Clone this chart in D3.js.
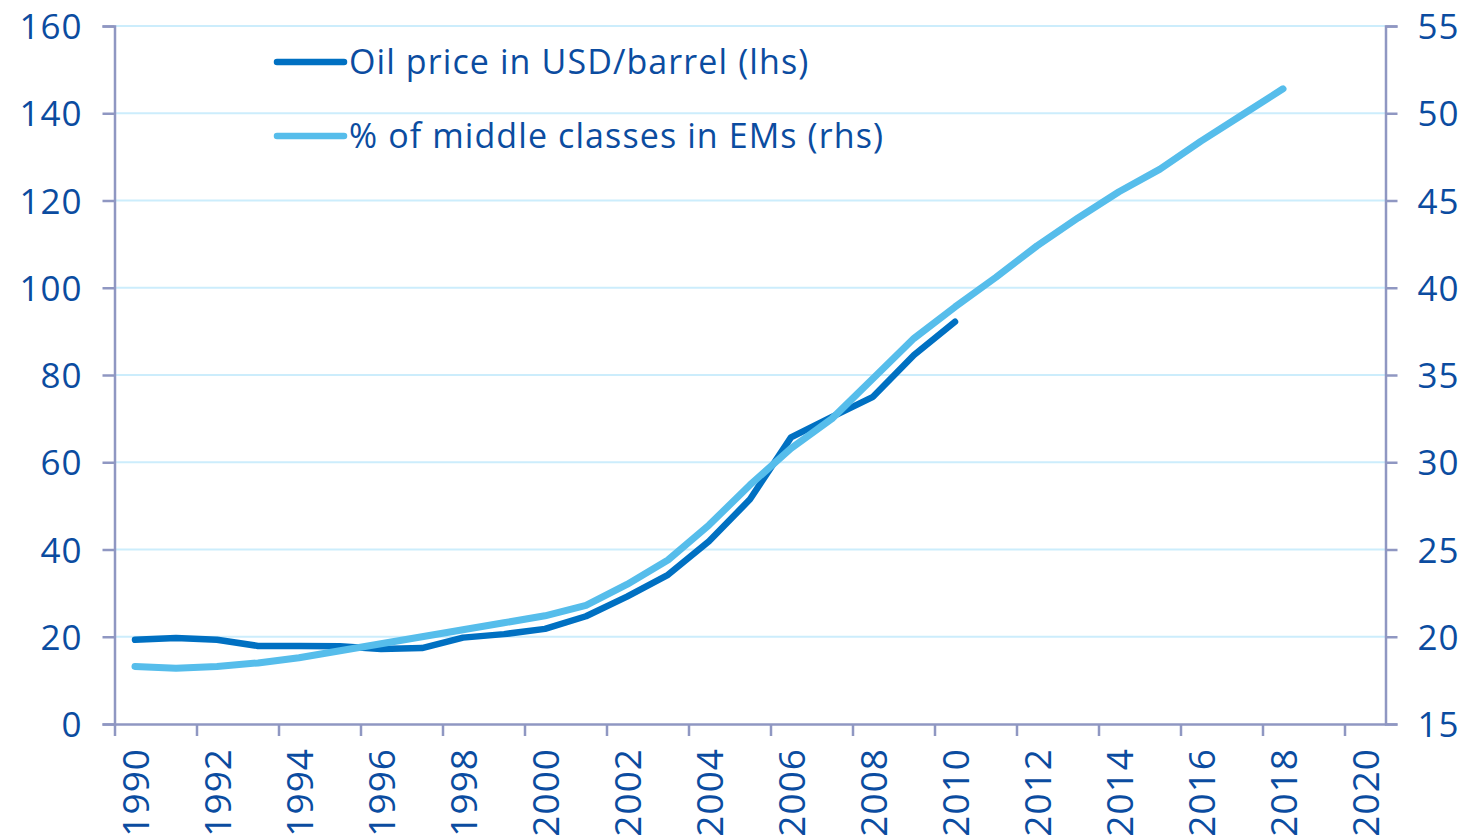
<!DOCTYPE html>
<html>
<head>
<meta charset="utf-8">
<script src="https://cdn.jsdelivr.net/npm/d3@7"></script>
<style>
  body { margin: 0; background: #ffffff; }
  text { font-family: "Open Sans", sans-serif; fill: #0b4ca0; }
</style>
</head>
<body>
<div id="grafico"></div>
<script>
// Datos
const anios = d3.range(1990, 2021);
const aniosPetroleo = d3.range(1990, 2011);
const precioPetroleo = [19.3, 19.7, 19.3, 17.9, 17.9, 17.8, 17.2, 17.4, 19.8, 20.6, 21.8,
  24.7, 29.2, 34.2, 41.9, 51.5, 65.7, 70.4, 75.0, 84.6, 92.2];
const aniosClaseMedia = d3.range(1990, 2019);
const claseMedia = [18.3, 18.2, 18.3, 18.5, 18.8, 19.2, 19.6, 20.0, 20.4, 20.8, 21.2,
  21.8, 23.0, 24.4, 26.4, 28.7, 30.8, 32.5, 34.8, 37.1, 38.9, 40.6, 42.4, 44.0,
  45.5, 46.8, 48.4, 49.9, 51.4];
const ticksIzq = [0, 20, 40, 60, 80, 100, 120, 140, 160];
const ticksDer = [15, 20, 25, 30, 35, 40, 45, 50, 55];
const etiquetasX = d3.range(1990, 2021, 2);
const leyenda = ["Oil price in USD/barrel (lhs)", "% of middle classes in EMs (rhs)"];

const ancho = 1468, alto = 838;
const izq = 114.5, der = 1385.5, arriba = 26, abajo = 724;
const colorEje = "#8f97c2";
const colorOscuro = "#0070c2";
const colorClaro = "#56bdeb";

const svg = d3.select("#grafico").append("svg")
  .attr("width", ancho).attr("height", alto);

const x = d3.scaleLinear().domain([1989.5, 2020.5]).range([izq, der]);
const paso = x(1991) - x(1990);
const yIzq = d3.scaleLinear().domain([0, 160]).range([abajo, arriba]);
const yDer = d3.scaleLinear().domain([15, 55]).range([abajo, arriba]);

// Líneas de cuadrícula
svg.append("g").selectAll("line")
  .data(ticksIzq.filter(d => d > 0))
  .join("line")
  .attr("x1", izq).attr("x2", der)
  .attr("y1", d => yIzq(d)).attr("y2", d => yIzq(d))
  .attr("stroke", "#ccedfc").attr("stroke-width", 2);

// Eje izquierdo
const ejeIzq = svg.append("g")
  .attr("transform", `translate(${izq},0)`)
  .call(d3.axisLeft(yIzq).tickValues(ticksIzq).tickSize(12).tickPadding(20));
ejeIzq.select(".domain").attr("stroke", colorEje).attr("stroke-width", 2.5);
ejeIzq.selectAll(".tick line").attr("stroke", colorEje).attr("stroke-width", 2.5);
ejeIzq.selectAll(".tick text").style("font-size", "35px").style("letter-spacing", "1px").attr("dy", "0.36em");

// Eje derecho
const ejeDer = svg.append("g")
  .attr("transform", `translate(${der},0)`)
  .call(d3.axisRight(yDer).tickValues(ticksDer).tickSize(12).tickPadding(20));
ejeDer.select(".domain").attr("stroke", colorEje).attr("stroke-width", 2.5);
ejeDer.selectAll(".tick line").attr("stroke", colorEje).attr("stroke-width", 2.5);
ejeDer.selectAll(".tick text").style("font-size", "35px").style("letter-spacing", "1px").attr("dy", "0.36em");

// Eje inferior
const ejeX = svg.append("g")
  .attr("transform", `translate(0,${abajo})`)
  .call(d3.axisBottom(x).tickValues(etiquetasX).tickFormat(d3.format("d")).tickSize(12).tickSizeOuter(0));
ejeX.select(".domain").attr("stroke", colorEje).attr("stroke-width", 2.5);
ejeX.selectAll(".tick line")
  .attr("x1", -paso / 2).attr("x2", -paso / 2)
  .attr("stroke", colorEje).attr("stroke-width", 2.5);
ejeX.selectAll(".tick text")
  .style("font-size", "37px")
  .style("letter-spacing", "1px")
  .attr("text-anchor", "end")
  .attr("transform", "rotate(-90)")
  .attr("x", -24).attr("y", 0).attr("dy", "0.36em");

// Series
const lineaPetroleo = d3.line()
  .x((d, i) => x(aniosPetroleo[i]))
  .y(d => yIzq(d));
const lineaClase = d3.line()
  .x((d, i) => x(aniosClaseMedia[i]))
  .y(d => yDer(d));

svg.append("path")
  .datum(precioPetroleo)
  .attr("d", lineaPetroleo)
  .attr("fill", "none").attr("stroke", colorOscuro)
  .attr("stroke-width", 6.5).attr("stroke-linecap", "round").attr("stroke-linejoin", "round");

svg.append("path")
  .datum(claseMedia)
  .attr("d", lineaClase)
  .attr("fill", "none").attr("stroke", colorClaro)
  .attr("stroke-width", 7).attr("stroke-linecap", "round").attr("stroke-linejoin", "round");

// Leyenda
const colores = [colorOscuro, colorClaro];
const itemLeyenda = svg.append("g").selectAll("g")
  .data(leyenda)
  .join("g")
  .attr("transform", (d, i) => `translate(277,${62 + i * 74})`);
itemLeyenda.append("line")
  .attr("x1", 0).attr("x2", 67)
  .attr("stroke", (d, i) => colores[i]).attr("stroke-width", 6.5).attr("stroke-linecap", "round");
itemLeyenda.append("text")
  .attr("x", 72).attr("dy", "0.36em")
  .style("font-size", "34px")
  .style("letter-spacing", "1.1px")
  .text(d => d);
</script>
</body>
</html>
